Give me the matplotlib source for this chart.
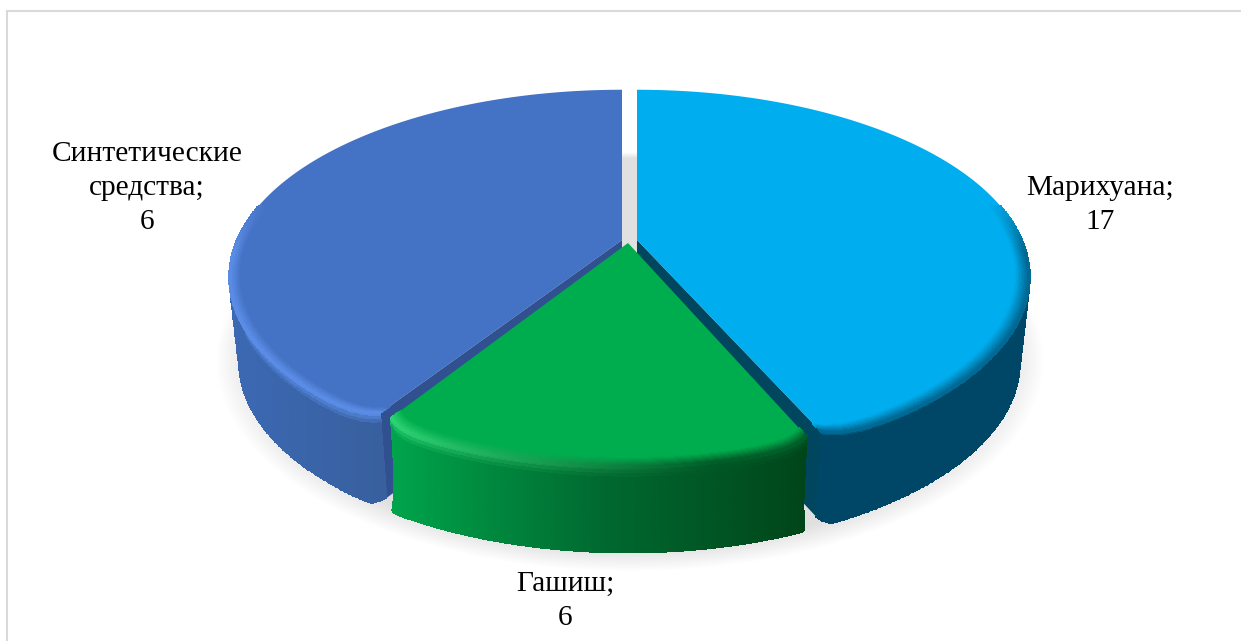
import matplotlib
matplotlib.use('Agg')
import matplotlib.pyplot as plt
import numpy as np
from matplotlib.colors import to_rgb
from matplotlib.patches import Rectangle

plt.rcParams['font.family'] = ['Liberation Serif', 'DejaVu Serif']

# slices go clockwise from 12 o'clock
categories = ['Марихуана', 'Гашиш', 'Синтетические\nсредства']
values = [17, 6, 6]              # numbers printed on the labels
shares = [43.4, 15.7, 40.9]      # share of the circle as drawn

W, H = 1241, 641

# projection of the unit circle to pixels
RX, RY, K = 385, 180, 0.198
DEPTH = 85
SHRINK = 0.975
CX = 630
GAP = np.radians(0.4)
ROUND = 0.035
ROUND_W = np.radians(2.5)
APEX = [(637, 240), (628, 243), (622, 240)]
TOP = ['#00aeef', '#00ad4e', '#4472c4']
CUT = ['#00465f', '#00431c', '#30508f']


def mix(a, b, t):
    t = np.clip(t, 0, 1)[..., None]
    return np.asarray(a) * (1 - t) + np.asarray(b) * t


def project(theta, radius, apex, depth=0.0):
    # theta is clockwise from the top
    xc, yc = radius * np.sin(theta), radius * np.cos(theta)
    w = 1 + K * yc
    x = apex[0] + RX * xc / w
    y = apex[1] - RY * yc / w
    x = CX + (x - CX) * (1 - (1 - SHRINK) * depth)
    return x, y + DEPTH * depth


def rim(theta, i, a, b, depth=0.0):
    # the corners at the edges between slices are rounded off, less so lower down
    width = ROUND_W * (1 - 0.85 * depth)
    r = np.ones_like(theta)
    if i > 0:
        r = r - ROUND * np.exp(-(theta - a) / width)
    if i < 2:
        r = r - ROUND * np.exp(-(b - theta) / width)
    return r


def wall_colors(i, x, s, front):
    # s < 0 is on the top surface, s > 0 goes down the wall
    u = np.clip((x - 385) / (810 - 385), 0, 1)
    shape = x.shape + (3,)
    if i == 0:
        wall = np.broadcast_to(np.array(to_rgb('#004666')), shape)
        base = mix(TOP_RGB[0], wall, (s + 0.14) / 0.2)
        return mix(TOP_RGB[0], base, front)
    if i == 1:
        wall = np.where(u[..., None] < 0.5,
                        mix(to_rgb('#00a64c'), to_rgb('#006a30'), u / 0.5),
                        mix(to_rgb('#006a30'), to_rgb('#004419'), (u - 0.5) / 0.5))
        high = mix(to_rgb('#2fd677'), to_rgb('#005a26'), u * 1.3)
        base = np.where((s < 0)[..., None],
                        mix(TOP_RGB[1], high, (s + 0.14) / 0.14),
                        mix(high, wall, s / 0.13))
        return mix(TOP_RGB[1], base, front)
    u = np.clip((x - 230) / 150, 0, 1)
    wall = mix(to_rgb('#3c69b3'), to_rgb('#38609f'), u)
    high = np.array(to_rgb('#5c8ee8'))
    high = np.broadcast_to(high, shape)
    base = np.where((s < 0)[..., None],
                    mix(TOP_RGB[2], high, (s + 0.1) / 0.1),
                    mix(high, wall, s / 0.14))
    return mix(TOP_RGB[2], base, front)


TOP_RGB = [np.array(to_rgb(c)) for c in TOP]

fig = plt.figure(figsize=(W / 100, H / 100), dpi=100)
ax = fig.add_axes([0, 0, 1, 1])
ax.set_xlim(0, W)
ax.set_ylim(H, 0)
ax.axis('off')

ax.add_patch(Rectangle((7, 11), W + 20, H + 20, fc='white', ec='#d9d9d9', lw=1.5, zorder=0))

# soft shadow under the pie, crisp at the back and blurred at the front
xx, yy = np.meshgrid(np.arange(W) + 0.5, np.arange(H) + 0.5)
dist = np.hypot((xx - 630) / 415, (yy - 362) / 210)
soft = 0.03 + 0.08 * np.clip((yy - 200) / 200, 0, 1)
alpha = 0.125 * np.clip((1.0 - dist) / soft, 0, 1)
shadow = np.zeros((H, W, 4))
shadow[..., 3] = alpha
ax.imshow(shadow, extent=(0, W, H, 0), aspect='auto', zorder=1, interpolation='bilinear')
ax.set_xlim(0, W)
ax.set_ylim(H, 0)

edges = np.cumsum([0] + shares) / 100 * 2 * np.pi
s_wall = np.linspace(0, 1, 26)
s_band = np.linspace(-0.14, 0, 10)

z = 2
for i in [2, 0, 1]:
    # only the edges between slices are pulled in, the top stays straight
    a = edges[i] + (GAP if i > 0 else 0)
    b = edges[i + 1] - (GAP if i < 2 else 0)
    apex = APEX[i]
    theta = np.linspace(a, b, 600)
    cut_theta = a if i == 2 else b
    cut_r = rim(np.array(cut_theta), i, a, b)

    # radial cut wall, only the left and right slices show one
    if i != 1:
        cx_, cy_ = project(np.array(cut_theta), cut_r, apex)
        bx_, by_ = project(np.array(cut_theta), cut_r, apex, 1.0)
        ax.fill([apex[0], cx_, bx_, apex[0]], [apex[1], cy_, by_, apex[1] + DEPTH],
                color=CUT[i], lw=0, zorder=z)

    # outer wall, the back part is hidden anyway
    front_theta = theta[np.cos(theta) < 0.2]
    tt, ss = np.meshgrid(front_theta, s_wall)
    x, y = project(tt, rim(tt, i, a, b, ss), apex, ss)
    mid_x = (x[:-1, :-1] + x[1:, 1:]) / 2
    mid_s = (ss[:-1, :-1] + ss[1:, 1:]) / 2
    mid_front = np.clip((-np.cos(tt[:-1, :-1]) + 0.25) / 0.3, 0, 1)
    ax.pcolormesh(x, y, wall_colors(i, mid_x, mid_s, mid_front), shading='flat',
                  edgecolors='face', linewidth=0.3, zorder=z + 0.1)

    # top surface
    px, py = project(theta, rim(theta, i, a, b), apex)
    ax.fill(np.r_[apex[0], px], np.r_[apex[1], py], color=TOP[i], lw=0, zorder=z + 0.2)

    # bevel along the rim
    tt, ss = np.meshgrid(front_theta, s_band)
    x, y = project(tt, rim(tt, i, a, b) * (1 + ss * 0.25), apex)
    mid_x = (x[:-1, :-1] + x[1:, 1:]) / 2
    mid_s = (ss[:-1, :-1] + ss[1:, 1:]) / 2
    mid_front = np.clip((-np.cos(tt[:-1, :-1]) + 0.25) / 0.3, 0, 1)
    ax.pcolormesh(x, y, wall_colors(i, mid_x, mid_s, mid_front), shading='flat',
                  edgecolors='face', linewidth=0.3, zorder=z + 0.3)
    z += 1

label_xy = [(1100, 205), (565, 601), (147, 188)]
for (lx, ly), cat, val in zip(label_xy, categories, values):
    ax.text(lx, ly, f'{cat};\n{val}', ha='center', va='center', fontsize=21.2,
            color='black', linespacing=1.4, zorder=10)

fig.savefig('out.png', dpi=100)
